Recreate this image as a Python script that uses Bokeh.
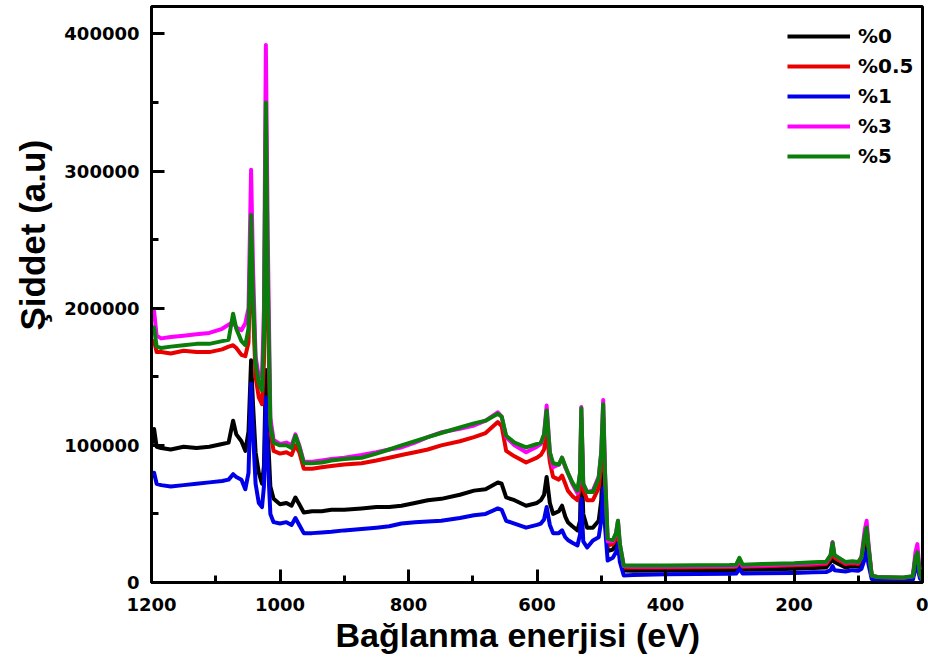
from bokeh.plotting import figure
from bokeh.models import Range1d, SingleIntervalTicker, NumeralTickFormatter, Legend, LegendItem, Title
from bokeh.embed import file_html
from bokeh.resources import INLINE

# Binding energy (eV), shared by all series
energy = [1200, 1196, 1192, 1185, 1170, 1150, 1130, 1110, 1090, 1080, 1073, 1068, 1060, 1054, 1049,
          1045, 1042, 1038, 1033, 1028, 1025, 1022, 1019, 1015, 1010, 1000, 990, 982, 976, 970, 963,
          950, 935, 920, 900, 873, 850, 830, 811, 790, 770, 749, 720, 698, 680, 661, 655, 648, 635,
          617, 600, 594, 589, 585, 580, 575, 566, 561, 556, 552, 545, 537, 533, 531, 528, 522, 513,
          504, 500, 497, 494, 490, 482, 477, 474, 471, 465, 450, 400, 350, 300, 290, 285, 280, 250,
          200, 170, 150, 143, 140, 137, 120, 109, 100, 95, 90, 87, 84, 79, 70, 50, 30, 15, 11, 8, 4, 0]

# Intensities in thousands (a.u.)
s_0 = [100, 112, 99, 98, 97, 99, 98, 99, 101, 102, 118, 108, 103, 96, 110,
       162, 130, 95, 80, 72, 85, 155, 110, 70, 61, 57, 58, 56, 62, 57, 51,
       52, 52, 53, 53, 54, 55, 55, 56, 58, 60, 61, 64, 67, 68, 73, 72, 62, 60,
       56, 58, 60, 64, 77, 58, 50, 52, 56, 48, 44, 41, 38, 45, 95, 50, 40, 40,
       45, 60, 95, 55, 23, 24, 28, 36, 22, 8.8, 8.5, 8.7, 8.9, 9.0, 9.2, 13, 9.3, 9.5,
       10, 10.5, 11, 15, 25, 15, 11, 12, 11.5, 14, 25, 32, 20, 4.5, 3.5, 3.2, 3.0, 3.5, 15, 18, 5, 2]
s_05 = [174, 176, 168, 168, 167, 169, 168, 168, 170, 172, 173, 171, 166, 165, 175,
        260, 200, 150, 135, 130, 160, 330, 200, 110, 96, 94, 95, 93, 100, 95, 83,
        83, 84, 85, 86, 87, 89, 91, 93, 95, 97, 100, 103, 106, 109, 117, 114, 96, 92,
        87.5, 91, 93, 97, 109, 88, 77, 75, 78, 72, 67, 63, 60, 70, 120, 68, 60, 60,
        69, 85, 120, 70, 27, 28, 32, 40, 25, 11, 11, 11, 11.2, 11.3, 11.5, 15, 11.5, 11.8,
        12.5, 13, 13.5, 18, 27, 18, 13.5, 14, 13.5, 17, 33, 40, 25, 5, 3.8, 3.5, 3.3, 4, 18, 20, 5, 2]
s_1 = [77, 80, 72, 71, 70, 71, 72, 73, 74, 75, 79, 77, 75, 68, 80,
       145, 110, 72, 58, 55, 70, 135, 90, 50, 44, 43, 44, 42, 47, 42, 36,
       36, 36.5, 37, 38, 39, 40, 41, 43, 44, 44.5, 45, 47, 49, 50, 54, 53, 45, 43,
       40, 42, 43, 46, 55, 42, 36, 36, 38, 33, 31, 29, 27, 35, 61, 30, 25.5, 30.7,
       33, 45, 69, 40, 16, 18, 22, 28, 15, 5.1, 5.5, 6, 6.2, 6.3, 6.5, 10, 6.6, 6.8,
       7, 7.4, 7.6, 9, 12, 9, 8, 9, 8.5, 10, 17, 23, 13, 2.5, 2, 1.6, 1.5, 2, 10, 12, 3, 1]
s_3 = [191, 198, 180, 178, 179, 180, 181, 182, 185, 188, 190, 186, 184, 189, 200,
       301, 230, 165, 150, 150, 200, 392, 250, 120, 104, 101, 102, 100, 108, 100, 88,
       88, 89, 90, 91, 93, 95, 97, 98.5, 102, 106, 109.5, 112, 114.5, 118, 124, 121, 106, 100,
       95, 99, 101, 108, 129, 95, 84, 86, 91, 84, 80, 72, 65, 80, 128, 72, 66, 67,
       77, 95, 133, 80, 30, 30, 36, 45, 28, 12, 11.6, 11.6, 11.8, 12, 12.2, 17, 12.3, 12.6,
       13.3, 14, 14.5, 20, 29.5, 20, 14.5, 15, 14.5, 19, 38, 45, 28, 5, 4, 3.7, 3.5, 4.5, 22, 28, 6, 2]
s_5 = [184, 186, 172, 171, 172, 173, 174, 174, 176, 177, 196, 185, 176, 173, 185,
       268, 210, 160, 145, 140, 180, 350, 220, 115, 102, 100, 100, 98, 107, 99, 87,
       87, 87.5, 89, 90, 91, 94, 97, 100, 103, 106, 109, 113, 116, 118, 123, 121, 107, 102,
       98.5, 101, 102, 108, 125.5, 95, 87, 86, 91, 85, 80, 73, 67, 80, 127, 72, 66, 66,
       76, 95, 130, 78, 32, 31, 36, 45, 28, 12.4, 12.4, 12.4, 12.6, 12.7, 13, 18, 13, 13.4,
       14, 14.8, 15.2, 20, 29, 20, 15, 15.5, 15, 18, 34, 40, 26, 5, 4, 3.8, 3.6, 4.5, 18, 22, 6, 2]

series_names = ["%0", "%0.5", "%1", "%3", "%5"]
series_values = [s_0, s_05, s_1, s_3, s_5]
series_colors = ["#000000", "#e80000", "#0000e8", "#ff00ff", "#0a7d0a"]

x_ticks_interval = 200
y_ticks_interval = 100000

p = figure(width=928, height=663, output_backend="svg", toolbar_location=None,
           x_range=Range1d(1200, 0), y_range=Range1d(0, 420000),
           min_border_left=149, min_border_right=6, min_border_top=6, min_border_bottom=81)
p.background_fill_color = "white"
p.border_fill_color = "white"
p.grid.visible = False
p.outline_line_color = "black"
p.outline_line_width = 3

items = []
for name, vals, col in zip(series_names, series_values, series_colors):
    r = p.line(energy, [v * 1000 for v in vals], line_color=col, line_width=4, line_join="round")
    items.append(LegendItem(label=name, renderers=[r]))

legend = Legend(items=items, location=(636, 411))
legend.border_line_color = None
legend.background_fill_alpha = 0
legend.glyph_width = 63
legend.glyph_height = 30
legend.label_height = 30
legend.spacing = 0
legend.padding = 0
legend.margin = 0
legend.label_standoff = 8
legend.label_text_font = "DejaVu Sans"
legend.label_text_font_style = "bold"
legend.label_text_font_size = "20px"
legend.label_text_color = "black"
p.add_layout(legend)

font = "DejaVu Sans"
p.xaxis.ticker = SingleIntervalTicker(interval=x_ticks_interval, num_minor_ticks=2)
p.yaxis.ticker = SingleIntervalTicker(interval=y_ticks_interval, num_minor_ticks=2)
p.yaxis.formatter = NumeralTickFormatter(format="0")
for ax in (p.xaxis, p.yaxis):
    ax.axis_line_width = 3
    ax.axis_line_color = "black"
    ax.major_tick_in = 13
    ax.major_tick_out = 0
    ax.minor_tick_in = 7
    ax.minor_tick_out = 0
    ax.major_tick_line_width = 3
    ax.minor_tick_line_width = 3
    ax.major_label_text_font = font
    ax.major_label_text_font_style = "bold"
    ax.major_label_text_font_size = "18px"
    ax.major_label_text_color = "black"
    ax.major_label_standoff = 12
p.xaxis.major_label_standoff = 15

xt = Title(text="Bağlanma enerjisi (eV)", align="left", offset=184, standoff=0,
           text_font="Liberation Sans", text_font_style="bold", text_font_size="34px",
           text_color="black")
yt = Title(text="Şiddet (a.u)", align="left", offset=252, standoff=20,
           text_font="Liberation Sans", text_font_style="bold", text_font_size="35px",
           text_color="black")
p.add_layout(xt, "below")
p.add_layout(yt, "left")

open("out.html", "w").write(file_html(p, INLINE))
